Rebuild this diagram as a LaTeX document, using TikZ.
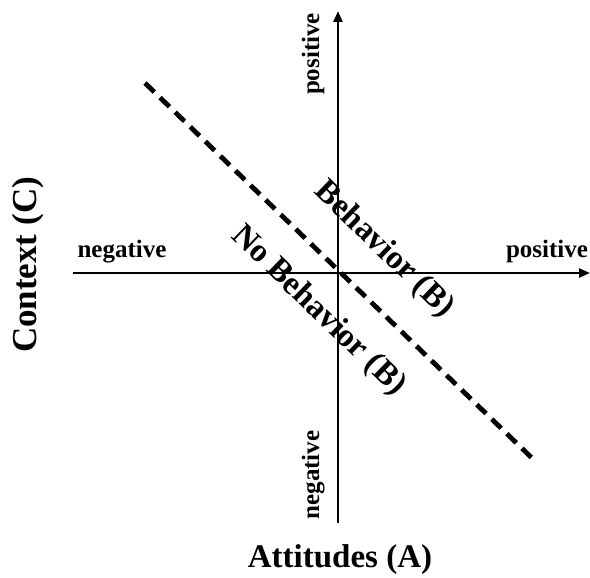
\documentclass[tikz,border=0pt]{standalone}
\usepackage{fontspec}
\setmainfont{Liberation Serif}
\usetikzlibrary{arrows.meta,positioning}

\begin{document}
\begin{tikzpicture}[x=1pt,y=-1pt,>={Triangle[length=11pt,width=9pt]},
  every node/.style={font=\bfseries,inner sep=0pt},
  axis/.style={line width=2.6pt},
  small/.style={font=\bfseries\fontsize{25}{30}\selectfont},
  big/.style={font=\bfseries\fontsize{33}{40}\selectfont},
  diag/.style={font=\bfseries\fontsize{33}{40}\selectfont,rotate=-44}]
\useasboundingbox (0,0) rectangle (590,578);
\coordinate (left) at (73,273);\coordinate (right) at (590,273);
\coordinate (bottom) at (338,523);\coordinate (top) at (338,11);
\coordinate (dashA) at (145,83);\coordinate (dashB) at (535,461);
\draw[axis,->] (left)--(right);\draw[axis,->] (bottom)--(top);
\draw[line width=4.8pt,dash pattern=on 13pt off 8pt] (dashA)--(dashB);
\node[small,anchor=base] (xneg) at (122,257) {negative};
\node[small,anchor=base] (xpos) at (547,257) {positive};
\node[small,rotate=90,anchor=base] (ypos) at (319,54) {positive};
\node[small,rotate=90,anchor=base] (yneg) at (319,475) {negative};
\node[diag] (beh) at (384,250) {Behavior (B)};
\node[diag] (nobeh) at (318,311) {No Behavior (B)};
\node[big,anchor=base] (xlab) at (340,567) {Attitudes (A)};
\node[big,rotate=90,font=\bfseries\fontsize{35}{42}\selectfont] (ylab) at (28,265) {Context (C)};
\end{tikzpicture}
\end{document}
